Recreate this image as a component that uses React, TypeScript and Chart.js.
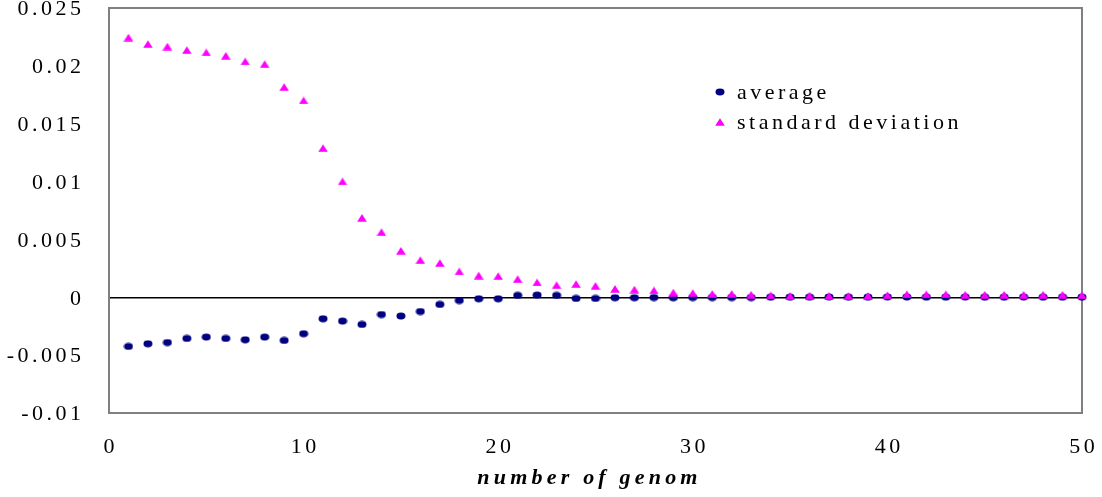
import { useEffect, useRef } from 'react';
import { Chart, registerables } from 'chart.js';

Chart.register(...registerables);

const FONT = '"Liberation Serif", "Times New Roman", serif';

const genomes = [
  1, 2, 3, 4, 5, 6, 7, 8, 9, 10,
  11, 12, 13, 14, 15, 16, 17, 18, 19, 20,
  21, 22, 23, 24, 25, 26, 27, 28, 29, 30,
  31, 32, 33, 34, 35, 36, 37, 38, 39, 40,
  41, 42, 43, 44, 45, 46, 47, 48, 49, 50,
];

const average = [
  -0.00425, -0.00402, -0.00391, -0.00356, -0.00344, -0.00356, -0.00367, -0.00344, -0.00373, -0.00315,
  -0.00186, -0.00206, -0.00235, -0.00149, -0.00162, -0.00123, -0.00062, -0.00028, -0.00013, -0.00013,
  0.00016, 0.00019, 0.00016, -0.0001, -0.0001, -0.00004, -0.00004, -0.00002, -0.00004, -0.00002,
  -0.00002, -0.00002, -0.00002, 0.00001, 0.00001, 0.00001, 0.00002, 0.00001, 0.00001, 0.00002,
  0.00002, 0.00001, 0.00001, 0.00002, 0.00001, 0.00001, 0.00002, 0.00001, 0.00001, 0.00001,
];

const standardDeviation = [
  0.02245, 0.02188, 0.02167, 0.02136, 0.02116, 0.02087, 0.02038, 0.02015, 0.01817, 0.01701,
  0.01289, 0.01001, 0.00687, 0.00563, 0.00402, 0.00321, 0.00296, 0.00223, 0.00188, 0.00183,
  0.00157, 0.00128, 0.00105, 0.00114, 0.00099, 0.00073, 0.00067, 0.00059, 0.00041, 0.00036,
  0.00029, 0.00029, 0.00022, 0.00016, 0.00012, 0.00014, 0.00012, 0.00012, 0.00012, 0.00018,
  0.00026, 0.00026, 0.00026, 0.00022, 0.00022, 0.00022, 0.00022, 0.00022, 0.00022, 0.00018,
];

const seriesLabels = ['average', 'standard deviation'];
const seriesColors = ['#000080', '#FF00FF'];
const xAxisTitle = 'number of genom';

function makeEllipse(color: string) {
  const c = document.createElement('canvas');
  c.width = 10;
  c.height = 8;
  const g = c.getContext('2d')!;
  g.fillStyle = color;
  g.beginPath();
  g.ellipse(5, 4, 4.5, 3.4, 0, 0, Math.PI * 2);
  g.fill();
  return c;
}

function makeTriangle(color: string) {
  const c = document.createElement('canvas');
  c.width = 10;
  c.height = 8;
  const g = c.getContext('2d')!;
  g.fillStyle = color;
  g.beginPath();
  g.moveTo(5, 0.2);
  g.lineTo(9.8, 7.8);
  g.lineTo(0.2, 7.8);
  g.closePath();
  g.fill();
  return c;
}

function fmt(v: number) {
  return String(Number(v.toFixed(3)));
}

export default function App() {
  const ref = useRef<HTMLCanvasElement | null>(null);

  useEffect(() => {
    if (!ref.current) return;
    const circleImg = makeEllipse(seriesColors[0]);
    const triImg = makeTriangle(seriesColors[1]);

    const framePlugin = {
      id: 'frame',
      beforeDatasetsDraw(chart: any) {
        const { ctx, chartArea: a } = chart;
        ctx.save();
        ctx.strokeStyle = '#808080';
        ctx.lineWidth = 2;
        ctx.strokeRect(a.left, a.top, a.right - a.left, a.bottom - a.top);
        ctx.restore();
      },
      afterDraw(chart: any) {
        const { ctx, chartArea: a } = chart;
        const xs = chart.scales.x;
        const ys = chart.scales.y;
        ctx.save();
        ctx.fillStyle = '#000';

        // y tick labels
        const sp = 3.5;
        ctx.letterSpacing = `${sp}px`;
        ctx.font = `22px ${FONT}`;
        ctx.textAlign = 'right';
        ctx.textBaseline = 'middle';
        ys.ticks.forEach((t: any) => {
          ctx.fillText(fmt(t.value), a.left - 28 + sp, ys.getPixelForValue(t.value) + 1.5);
        });

        // x tick labels
        ctx.textAlign = 'center';
        xs.ticks.forEach((t: any) => {
          ctx.fillText(fmt(t.value), xs.getPixelForValue(t.value) + sp / 2, 447);
        });

        // legend
        ctx.textAlign = 'left';
        const rows = [93, 123];
        chart.data.datasets.forEach((ds: any, i: number) => {
          const img = ds.pointStyle as HTMLCanvasElement;
          const y = rows[i];
          ctx.drawImage(img, 720 - img.width / 2, y - 1 - img.height / 2);
          ctx.fillText(ds.label, 737, y);
        });

        // x axis title
        ctx.letterSpacing = '4.2px';
        ctx.font = `italic bold 22px ${FONT}`;
        ctx.textAlign = 'center';
        ctx.fillText(xAxisTitle, (a.left + a.right) / 2 - 6, 478);
        ctx.restore();
      },
    };

    const chart = new Chart(ref.current, {
      type: 'scatter',
      data: {
        datasets: [
          {
            label: seriesLabels[0],
            data: genomes.map((g, i) => ({ x: g, y: average[i] })),
            pointStyle: circleImg as any,
            backgroundColor: seriesColors[0],
            borderColor: seriesColors[0],
            clip: false as any,
            order: 2,
          },
          {
            label: seriesLabels[1],
            data: genomes.map((g, i) => ({ x: g, y: standardDeviation[i] })),
            pointStyle: triImg as any,
            backgroundColor: seriesColors[1],
            borderColor: seriesColors[1],
            clip: false as any,
            order: 1,
          },
        ],
      },
      options: {
        responsive: false,
        animation: false,
        layout: { padding: { top: 8, right: 20, left: 0, bottom: 0 } },
        plugins: {
          legend: { display: false },
          tooltip: { enabled: false },
        },
        scales: {
          x: {
            type: 'linear',
            min: 0,
            max: 50,
            ticks: { stepSize: 10, display: false },
            grid: { display: false, drawTicks: false },
            border: { display: false },
            title: { display: false },
            afterFit(s: any) {
              s.height = 84;
              s.paddingLeft = 0;
              s.paddingRight = 0;
            },
          },
          y: {
            type: 'linear',
            min: -0.01,
            max: 0.025,
            ticks: { stepSize: 0.005, display: false },
            grid: {
              drawTicks: false,
              lineWidth: 1.5,
              color: (c: any) =>
                c.tick && Math.abs(c.tick.value) < 1e-9 ? '#000' : 'rgba(0,0,0,0)',
            },
            border: { display: false },
            afterFit(s: any) {
              s.width = 109;
              s.paddingTop = 0;
              s.paddingBottom = 0;
            },
          },
        },
      } as any,
      plugins: [framePlugin],
    });

    return () => chart.destroy();
  }, []);

  return (
    <div style={{ position: 'absolute', left: 0, top: 0, width: 1102, height: 497 }}>
      <canvas ref={ref} width={1102} height={497} />
    </div>
  );
}
